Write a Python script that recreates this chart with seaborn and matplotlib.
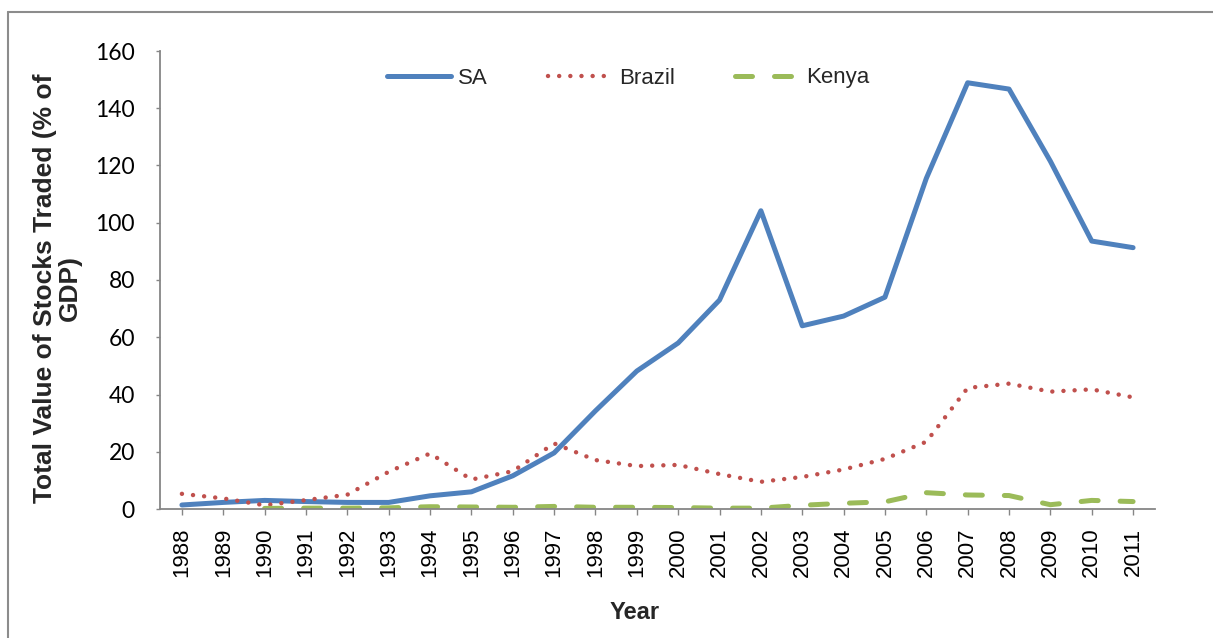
import numpy as np
import pandas as pd
import seaborn as sns
import matplotlib.pyplot as plt
from matplotlib.lines import Line2D

# données (% du PIB)
years = list(range(1988, 2012))
sa = [1.4, 2.3, 3.0, 2.6, 2.3, 2.3, 4.6, 6.0, 11.6, 19.6, 34.3, 48.2, 58.0,
      73.0, 104.2, 64.0, 67.4, 74.0, 115.5, 148.9, 146.7, 121.5, 93.6, 91.3]
brazil = [5.3, 3.7, 1.3, 3.1, 5.0, 13.0, 19.4, 10.3, 13.2, 22.9, 17.1, 15.0,
          15.4, 12.2, 9.5, 11.2, 13.8, 17.5, 23.5, 42.3, 43.8, 41.0, 41.8, 39.0]
kenya = [np.nan, np.nan, 0.2, 0.3, 0.3, 0.4, 0.8, 0.7, 0.6, 0.9, 0.6, 0.6,
         0.5, 0.3, 0.3, 1.3, 2.0, 2.5, 5.7, 4.9, 4.7, 1.5, 3.0, 2.6]

series_names = ["SA", "Brazil", "Kenya"]
colors = ["#4F81BD", "#C0504D", "#9BBB59"]
y_ticks = list(range(0, 161, 20))

df = pd.DataFrame({"Year": years, "SA": sa, "Brazil": brazil, "Kenya": kenya})

sns.set_theme(style="white")
plt.rcParams["font.family"] = ["Liberation Sans", "DejaVu Sans"]

W, H = 1213, 638
fig = plt.figure(figsize=(W / 100, H / 100), dpi=100)
ax = fig.add_axes([160 / W, 1 - 509 / H, 995 / W, 458 / H])

# SA : trait plein
sns.lineplot(data=df, x="Year", y="SA", ax=ax, color=colors[0], lw=3.6,
             label="SA", solid_joinstyle="round", solid_capstyle="round")
# Brazil : pointillés ronds
sns.lineplot(data=df, x="Year", y="Brazil", ax=ax, color=colors[1], lw=3.2,
             linestyle=(0, (0.01, 2.5)), dash_capstyle="round", label="Brazil")
# Kenya : tirets longs
sns.lineplot(data=df.dropna(), x="Year", y="Kenya", ax=ax, color=colors[2], lw=3.6,
             linestyle=(0, (3.4, 4.4)), dash_capstyle="round", label="Kenya")

ax.set_xlim(years[0] - 0.53, years[-1] + 0.53)
ax.set_ylim(0, 160)
ax.set_yticks(y_ticks)
ax.set_xticks(years)
ax.set_xticklabels([str(y) for y in years], rotation=90, fontsize=16)
ax.set_yticklabels([str(t) for t in y_ticks], fontsize=16.5, family=["Lato", "DejaVu Sans"])

for side in ["top", "right"]:
    ax.spines[side].set_visible(False)
for side in ["left", "bottom"]:
    ax.spines[side].set_color("#868686")
    ax.spines[side].set_linewidth(1.3)

ax.tick_params(axis="y", which="both", left=True, length=3, width=1, color="#868686",
               pad=15, labelcolor="black")
ax.tick_params(axis="x", which="both", bottom=True, length=4.5, width=1, color="#868686",
               pad=9, labelcolor="black")
ax.grid(False)

ax.set_xlabel("Year", fontsize=17, fontweight="bold")
ax.xaxis.set_label_coords(0.477, -0.20)
ax.set_ylabel("Total Value of Stocks Traded (% of\nGDP)", fontsize=19,
              fontweight="bold", linespacing=1.0)
ax.yaxis.set_label_coords(-0.079, 0.483)

leg = ax.legend(loc="center left", bbox_to_anchor=(387 / W, 1 - 78 / H),
                bbox_transform=fig.transFigure, ncol=3, frameon=False,
                fontsize=16, handlelength=2.9, handletextpad=0.3,
                columnspacing=2.7, borderpad=0, borderaxespad=0)

# cadre extérieur du graphique
fig.add_artist(Line2D([8 / W, 1], [1 - 12 / H, 1 - 12 / H], transform=fig.transFigure,
                      color="#8c8c8c", lw=1.5))
fig.add_artist(Line2D([8 / W, 8 / W], [0, 1 - 12 / H], transform=fig.transFigure,
                      color="#8c8c8c", lw=1.5))

fig.savefig("out.png", dpi=100, facecolor="white")
